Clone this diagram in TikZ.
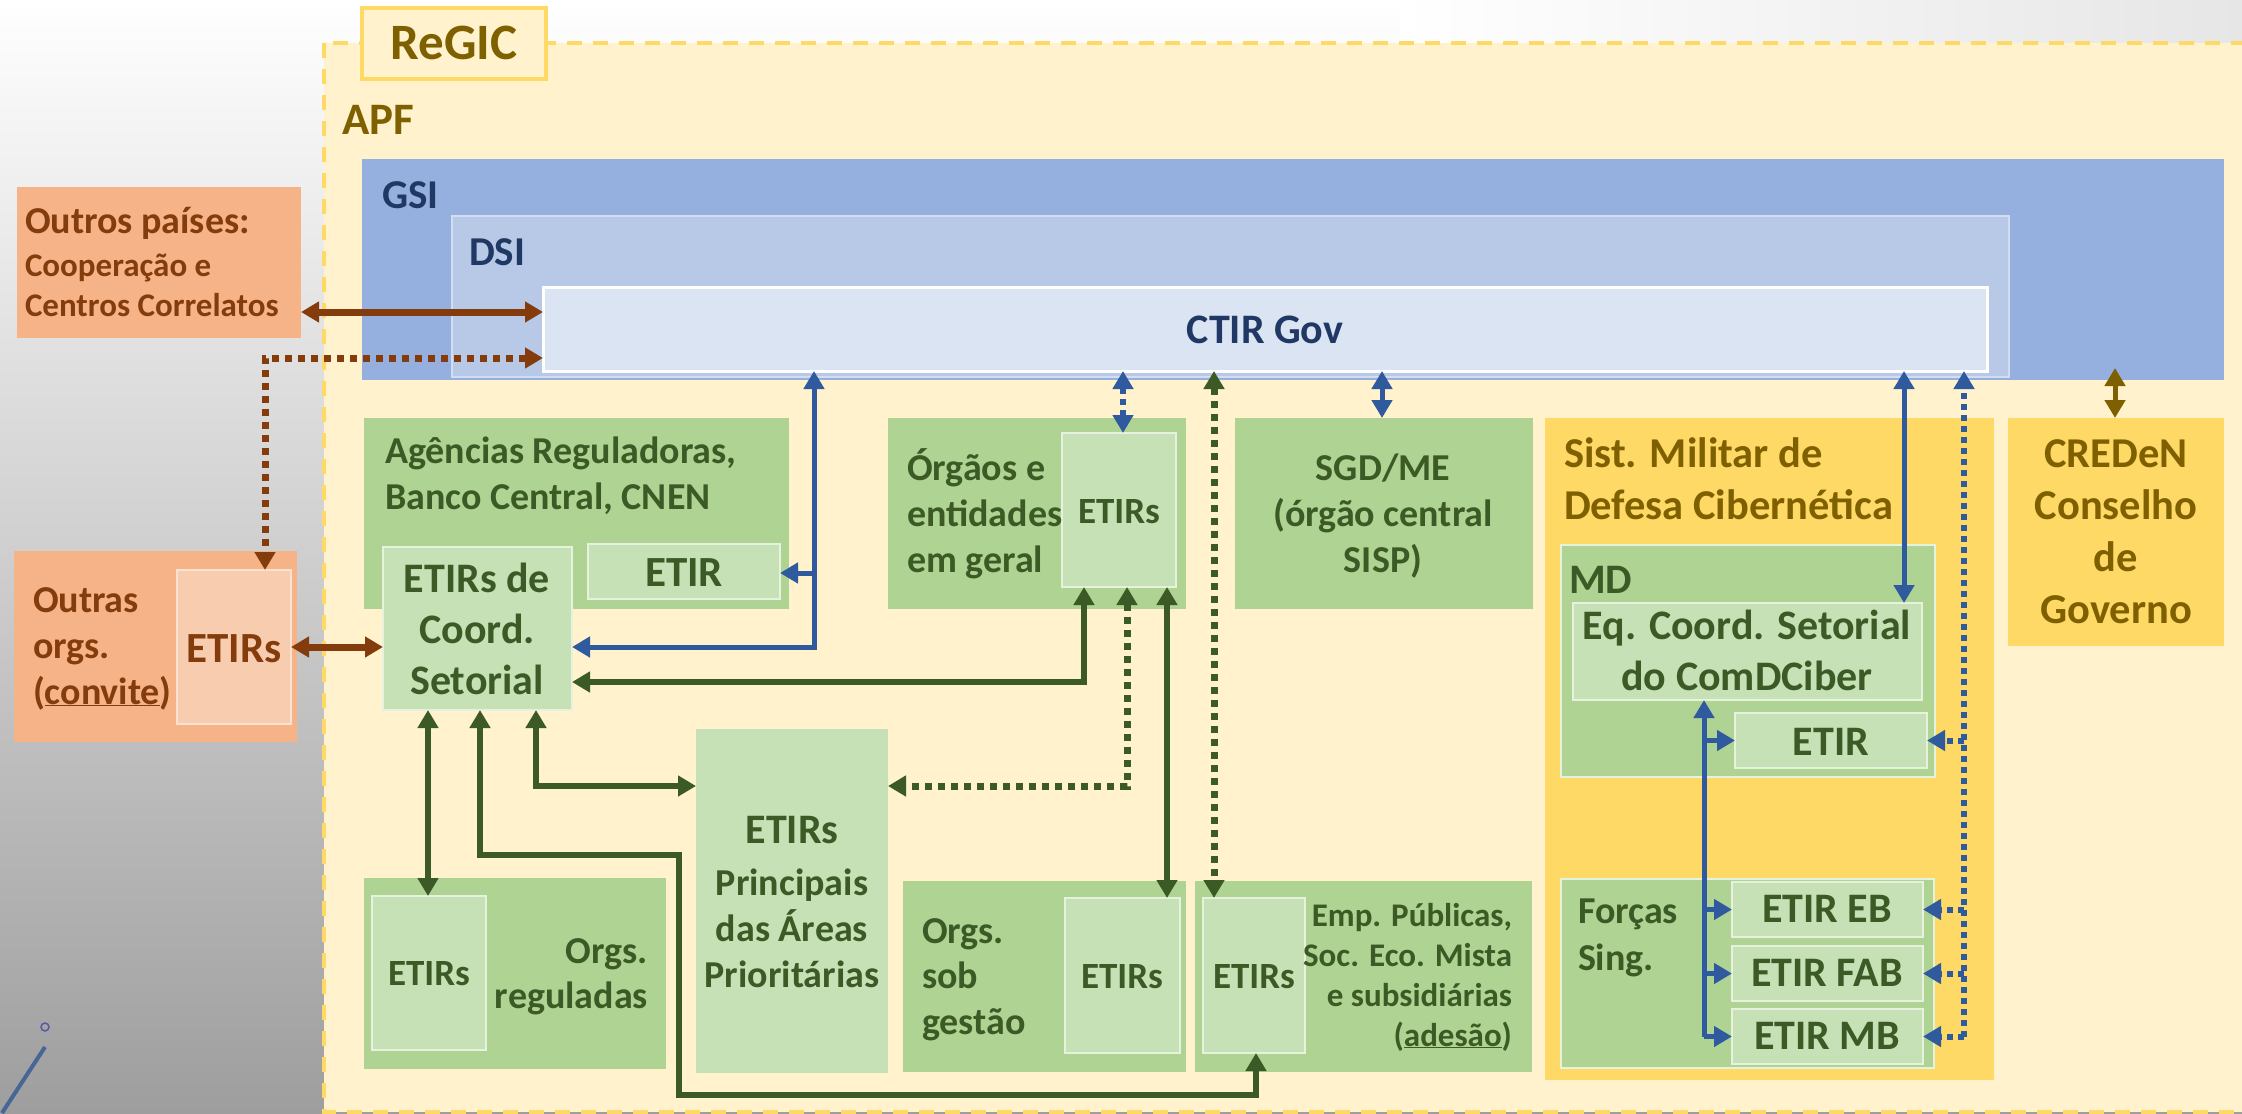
\documentclass[tikz,border=0pt]{standalone}
\usepackage{fontspec}
\setmainfont{Carlito}
\usetikzlibrary{arrows.meta}
\definecolor{beige}{HTML}{FFF2CC}
\definecolor{yelline}{HTML}{FFD966}
\definecolor{yelbox}{HTML}{FFD966}
\definecolor{gsiblue}{HTML}{95AFDE}
\definecolor{dsiblue}{HTML}{B8C9E8}
\definecolor{dsiline}{HTML}{D3DDF1}
\definecolor{ctirblue}{HTML}{DBE4F3}
\definecolor{navy}{HTML}{203864}
\definecolor{gbox}{HTML}{AFD392}
\definecolor{lgbox}{HTML}{C6E1B5}
\definecolor{lgline}{HTML}{E6F2DE}
\definecolor{dgreen}{HTML}{3B5A25}
\definecolor{obox}{HTML}{F5B387}
\definecolor{lobox}{HTML}{F8CDAF}
\definecolor{loline}{HTML}{FBE3D3}
\definecolor{brwn}{HTML}{843C0C}
\definecolor{gold}{HTML}{7F6000}
\definecolor{arrblue}{HTML}{2F5A9E}
\definecolor{bgbot}{HTML}{9E9E9E}
\definecolor{bgtr}{HTML}{E6E6E6}
\newcommand\fz[1]{\fontsize{#1}{#1}\selectfont\bfseries}
\newcommand\mybox[6]{\node[boxbase,#6,minimum width={#4-#2},minimum height={#5-#3}] (#1) at (#2,#3) {};}
\newcommand\mytext[6]{\node[txtbase,#5,anchor=#4] (#1) at (#2,#3) {#6};}
\begin{document}
\begin{tikzpicture}[x=1pt,y=-1pt,
  boxbase/.style={anchor=north west,inner sep=0pt,outer sep=0pt},
  txtbase/.style={inner sep=0pt,outer sep=0pt},
  >={Triangle[length=18pt,width=20pt]},
  gb/.style={fill=gbox},
  lgb/.style={fill=lgbox,draw=lgline,line width=2pt},
  bl/.style={draw=arrblue,line width=5pt},
  bldot/.style={draw=arrblue,line width=6pt,dash pattern=on 6pt off 5pt},
  gr/.style={draw=dgreen,line width=6.5pt},
  grdot/.style={draw=dgreen,line width=7pt,dash pattern=on 7pt off 6pt},
  br/.style={draw=brwn,line width=7pt},
  brdot/.style={draw=brwn,line width=7pt,dash pattern=on 7pt off 6pt},
  gd/.style={draw=gold,line width=5pt},
  tg/.style={text=dgreen},
  tb/.style={text=brwn},
  to/.style={text=gold},
  tn/.style={text=navy}]
\useasboundingbox (0,0) rectangle (2242,1113);
\clip (0,0) rectangle (2242,1113);
% background
\shade[top color=white,bottom color=bgbot] (0,0) rectangle (2242,1113);
\shade[left color=white,right color=bgtr] (1400,0) rectangle (2242,60);
\draw[line width=1.5pt,draw=gray!70!blue] (45,1027) circle (4);
\draw[line width=4pt,draw=arrblue!70!gray] (45,1047) -- (2,1113);
% ReGIC region
\draw[fill=beige,draw=yelline,line width=4pt,dash pattern=on 15pt off 11pt] (324,43) rectangle (2270,1112);
\mybox{regic}{362}{8}{546}{79}{fill=beige,draw=yelline,line width=4pt}
% GSI / DSI / CTIR
\mybox{gsi}{362}{159}{2224}{380}{fill=gsiblue}
\mybox{dsi}{452}{216}{2009}{377}{fill=dsiblue,draw=dsiline,line width=1.5pt}
\mybox{ctir}{543}{287}{1987}{371}{fill=ctirblue,draw=white,line width=3pt}
% orange
\mybox{outros}{17}{187}{301}{338}{fill=obox}
\mybox{oorgs}{14}{551}{297}{742}{fill=obox}
\mybox{oetirs}{177}{570}{291}{724}{fill=lobox,draw=loline,line width=2pt}
% green boxes
\mybox{agencias}{364}{418}{789}{609}{gb}
\mybox{coord}{383}{547}{572}{710}{lgb}
\mybox{etirA}{588}{544}{780}{599}{lgb}
\mybox{orgaos}{888}{418}{1186}{609}{gb}
\mybox{orgetirs}{1062}{433}{1176}{587}{lgb}
\mybox{sgd}{1235}{418}{1533}{609}{gb}
\mybox{orgreg}{364}{878}{666}{1069}{gb}
\mybox{oretirs}{372}{896}{486}{1050}{lgb}
\mybox{princ}{696}{729}{888}{1073}{fill=lgbox}
\mybox{sob}{903}{881}{1186}{1072}{gb}
\mybox{sobetirs}{1065}{898}{1180}{1053}{lgb}
\mybox{emp}{1195}{881}{1532}{1072}{gb}
\mybox{empetirs}{1203}{898}{1305}{1053}{lgb}
% military
\mybox{sist}{1545}{418}{1994}{1080}{fill=yelbox}
\mybox{md}{1561}{545}{1935}{777}{fill=gbox,draw=lgline,line width=2pt}
\mybox{eqc}{1573}{603}{1922}{700}{lgb}
\mybox{etirmd}{1735}{713}{1927}{768}{lgb}
\mybox{forcas}{1561}{879}{1934}{1068}{fill=gbox,draw=lgline,line width=2pt}
\mybox{eb}{1732}{882}{1923}{937}{lgb}
\mybox{fab}{1732}{946}{1923}{1001}{lgb}
\mybox{mb}{1732}{1009}{1923}{1064}{lgb}
\mybox{creden}{2008}{418}{2224}{646}{fill=yelbox}
% texts
\mytext{tRegic}{454}{60}{base}{to,font=\fz{51}}{ReGIC}
\mytext{tApf}{342}{135}{base west}{to,font=\fz{45}}{APF}
\mytext{tGsi}{382}{208}{base west}{tn,font=\fz{41}}{GSI}
\mytext{tDsi}{469}{265}{base west}{tn,font=\fz{41}}{DSI}
\mytext{tCtir}{1265}{343}{base}{tn,font=\fz{42}}{CTIR Gov}
\mytext{tOp1}{25}{233}{base west}{tb,font=\fz{38}}{Outros países:}
\mytext{tOp2}{25}{276}{base west}{tb,font=\fz{33}}{Cooperação e}
\mytext{tOp3}{25}{316}{base west}{tb,font=\fz{33}}{Centros Correlatos}
\mytext{tOo1}{33}{612}{base west}{tb,font=\fz{38}}{Outras}
\mytext{tOo2}{33}{658}{base west}{tb,font=\fz{38}}{orgs.}
\mytext{tOo3}{33}{704}{base west}{tb,font=\fz{38}}{(\underline{convite})}
\mytext{tOe}{234}{662}{base}{tb,font=\fz{43}}{ETIRs}
\mytext{tAg1}{385}{463}{base west}{tg,font=\fz{38}}{Agências Reguladoras,}
\mytext{tAg2}{385}{509}{base west}{tg,font=\fz{38}}{Banco Central, CNEN}
\mytext{tCo1}{477}{592}{base}{tg,font=\fz{42}}{ETIRs de}
\mytext{tCo2}{477}{643}{base}{tg,font=\fz{42}}{Coord.}
\mytext{tCo3}{477}{694}{base}{tg,font=\fz{42}}{Setorial}
\mytext{tEa}{684}{586}{base}{tg,font=\fz{43}}{ETIR}
\mytext{tOr1}{907}{480}{base west}{tg,font=\fz{38}}{Órgãos e}
\mytext{tOr2}{907}{526}{base west}{tg,font=\fz{38}}{entidades}
\mytext{tOr3}{907}{572}{base west}{tg,font=\fz{38}}{em geral}
\mytext{tOrE}{1119}{523}{base}{tg,font=\fz{37}}{ETIRs}
\mytext{tSg1}{1383}{480}{base}{tg,font=\fz{38}}{SGD/ME}
\mytext{tSg2}{1383}{526}{base}{tg,font=\fz{38}}{(órgão central}
\mytext{tSg3}{1383}{572}{base}{tg,font=\fz{38}}{SISP)}
\mytext{tSi1}{1564}{467}{base west}{to,font=\fz{42.5}}{Sist. Militar de}
\mytext{tSi2}{1564}{519}{base west}{to,font=\fz{42.5}}{Defesa Cibernética}
\mytext{tMd}{1569}{593}{base west}{tg,font=\fz{42}}{MD}
\mytext{tEq1}{1747}{639}{base}{tg,font=\fz{42}}{Eq. Coord. Setorial}
\mytext{tEq2}{1747}{690}{base}{tg,font=\fz{42}}{do ComDCiber}
\mytext{tEm}{1831}{755}{base}{tg,font=\fz{42}}{ETIR}
\mytext{tFo1}{1578}{923}{base west}{tg,font=\fz{38}}{Forças}
\mytext{tFo2}{1578}{970}{base west}{tg,font=\fz{38}}{Sing.}
\mytext{tEb}{1827}{922}{base}{tg,font=\fz{42}}{ETIR EB}
\mytext{tFab}{1827}{986}{base}{tg,font=\fz{42}}{ETIR FAB}
\mytext{tMb}{1827}{1049}{base}{tg,font=\fz{42}}{ETIR MB}
\mytext{tCr1}{2116}{467}{base}{to,font=\fz{42.5}}{CREDeN}
\mytext{tCr2}{2116}{519}{base}{to,font=\fz{42.5}}{Conselho}
\mytext{tCr3}{2116}{571}{base}{to,font=\fz{42.5}}{de}
\mytext{tCr4}{2116}{623}{base}{to,font=\fz{42.5}}{Governo}
\mytext{tRg1}{648}{963}{base east}{tg,font=\fz{38}}{Orgs.}
\mytext{tRg2}{648}{1008}{base east}{tg,font=\fz{38}}{reguladas}
\mytext{tRgE}{429}{985}{base}{tg,font=\fz{37}}{ETIRs}
\mytext{tPr1}{792}{843}{base}{tg,font=\fz{42}}{ETIRs}
\mytext{tPr2}{792}{895}{base}{tg,font=\fz{38}}{Principais}
\mytext{tPr3}{792}{941}{base}{tg,font=\fz{38}}{das Áreas}
\mytext{tPr4}{792}{987}{base}{tg,font=\fz{38}}{Prioritárias}
\mytext{tSo1}{922}{943}{base west}{tg,font=\fz{38}}{Orgs.}
\mytext{tSo2}{922}{988}{base west}{tg,font=\fz{38}}{sob}
\mytext{tSo3}{922}{1034}{base west}{tg,font=\fz{38}}{gestão}
\mytext{tSoE}{1122}{988}{base}{tg,font=\fz{37}}{ETIRs}
\mytext{tEmE}{1254}{988}{base}{tg,font=\fz{37}}{ETIRs}
\mytext{tEm1}{1512}{926}{base east}{tg,font=\fz{33}}{Emp. Públicas,}
\mytext{tEm2}{1512}{966}{base east}{tg,font=\fz{33}}{Soc. Eco. Mista}
\mytext{tEm3}{1512}{1006}{base east}{tg,font=\fz{33}}{e subsidiárias}
\mytext{tEm4}{1512}{1046}{base east}{tg,font=\fz{33}}{(\underline{adesão})}
% coordinates for connectors
\coordinate (bA) at (814,647);
\coordinate (bB) at (814,573);
\coordinate (vOr) at (1123,0);
\coordinate (vGd) at (1214,0);
\coordinate (vSg) at (1382,0);
\coordinate (vCr) at (2115,0);
\coordinate (vEq) at (1904,0);
\coordinate (vMd) at (1964,0);
\coordinate (vFs) at (1704,0);
\coordinate (g1) at (428,0);
\coordinate (g2a) at (480,855);
\coordinate (g2b) at (679,855);
\coordinate (g2c) at (679,1095);
\coordinate (g2d) at (1256,1095);
\coordinate (g3) at (536,786);
\coordinate (g4) at (1084,682);
\coordinate (g5) at (1127,786);
\coordinate (g6) at (1167,0);
\coordinate (br1) at (0,312);
\coordinate (br2) at (265,358);
\coordinate (br3) at (0,647);
% blue connectors
\draw[bl,<->] (ctir.south -| bA) -- (bA) -- (bA -| coord.east);
\draw[bl,->] (bB) -- (bB -| etirA.east);
\draw[bldot,<->] (ctir.south -| vOr) -- (orgetirs.north -| vOr);
\draw[bl,<->] (ctir.south -| vSg) -- (sgd.north -| vSg);
\draw[gd,<->,shorten <=-12pt] (gsi.south -| vCr) -- (creden.north -| vCr);
\draw[bl,<->] (ctir.south -| vEq) -- (eqc.north -| vEq);
\draw[bldot,->] (vMd |- mb.east) -- (ctir.south -| vMd);
\draw[bldot,->] (vMd |- etirmd.east) -- (etirmd.east);
\draw[bldot,->] (vMd |- eb.east) -- (eb.east);
\draw[bldot,->] (vMd |- fab.east) -- (fab.east);
\draw[bldot,->] (vMd |- mb.east) -- (mb.east);
\draw[bl,->] (vFs |- mb.west) -- (eqc.south -| vFs);
\draw[bl,->] (vFs |- etirmd.west) -- (etirmd.west);
\draw[bl,->] (vFs |- eb.west) -- (eb.west);
\draw[bl,->] (vFs |- fab.west) -- (fab.west);
\draw[bl,->] (vFs |- mb.west) -- (mb.west);
% green connectors
\draw[gr,<->] (coord.south -| g1) -- (oretirs.north -| g1);
\draw[gr,<->] (coord.south -| g2a) -- (g2a) -- (g2b) -- (g2c) -- (g2d) -- (empetirs.south -| g2d);
\draw[gr,<->] (coord.south -| g3) -- (g3) -- (g3 -| princ.west);
\draw[gr,<->] (orgetirs.south -| g4) -- (g4) -- (g4 -| coord.east);
\draw[grdot,<->] (orgetirs.south -| g5) -- (g5) -- (g5 -| princ.east);
\draw[gr,<->] (orgetirs.south -| g6) -- (sobetirs.north -| g6);
\draw[grdot,<->] (ctir.south -| vGd) -- (empetirs.north -| vGd);
% brown connectors
\draw[br,<->] (outros.east |- br1) -- (ctir.west |- br1);
\draw[brdot,<->] (ctir.west |- br2) -- (br2) -- (oetirs.north -| br2);
\draw[br,<->] (oetirs.east |- br3) -- (coord.west |- br3);
\end{tikzpicture}
\end{document}
